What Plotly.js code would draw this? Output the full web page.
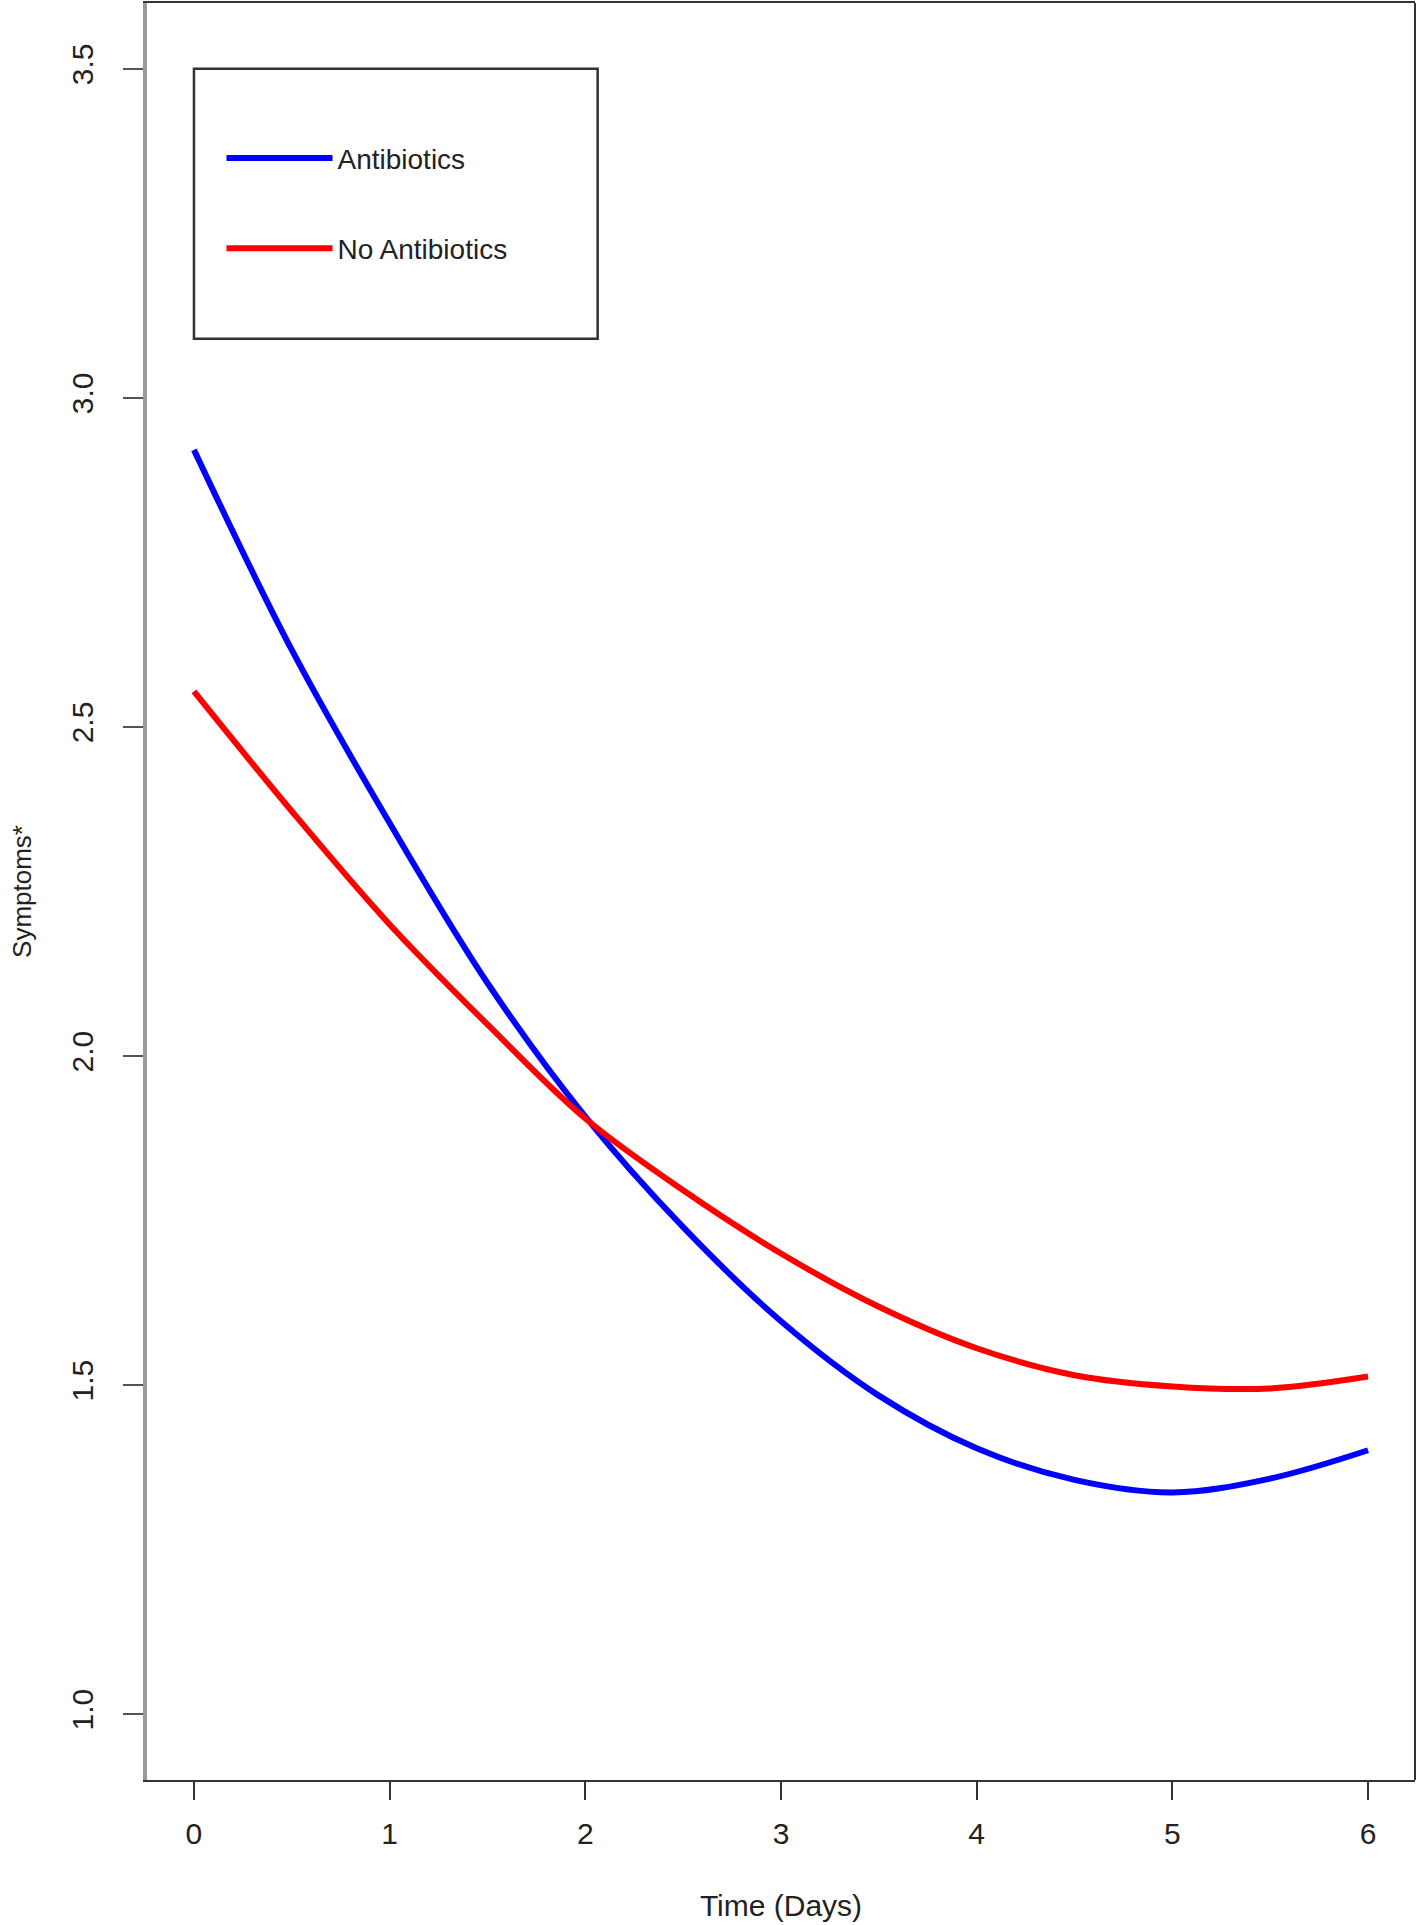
<!DOCTYPE html>
<html>
<head>
<meta charset="utf-8">
<script src="https://cdn.plot.ly/plotly-3.0.1.min.js"></script>
<style>html,body{margin:0;padding:0;background:#fff;}</style>
</head>
<body>
<div id="chart" style="width:1418px;height:1925px;"></div>
<script>
// Data
const days = [0, 0.5, 1, 1.5, 2, 2.5, 3, 3.5, 4, 4.5, 5, 5.5, 6];
const antibiotics = [2.921, 2.617, 2.354, 2.111, 1.908, 1.740, 1.597, 1.484, 1.404, 1.356, 1.337, 1.358, 1.401];
const noAntibiotics = [2.554, 2.372, 2.200, 2.048, 1.905, 1.796, 1.700, 1.619, 1.556, 1.515, 1.498, 1.495, 1.513];
const seriesNames = ["Antibiotics", "No Antibiotics"];
const xTicks = [0, 1, 2, 3, 4, 5, 6];
const yTicks = [1.0, 1.5, 2.0, 2.5, 3.0, 3.5];
const yTickText = ["1.0", "1.5", "2.0", "2.5", "3.0", "3.5"];
const xTitle = "Time (Days)";
const yTitle = "Symptoms*";

const font = "Liberation Sans, Arial, sans-serif";

const traces = [
  {x: days, y: antibiotics, name: seriesNames[0], mode: "lines", type: "scatter",
   line: {color: "#0000FF", width: 6, shape: "spline"}, legendgroup: "a"},
  {x: days, y: noAntibiotics, name: seriesNames[1], mode: "lines", type: "scatter",
   line: {color: "#FF0000", width: 6, shape: "spline"}, legendgroup: "b"}
];

const layout = {
  width: 1418, height: 1925,
  margin: {l: 147, r: 3, t: 3, b: 145},
  paper_bgcolor: "#fff", plot_bgcolor: "#fff",
  font: {family: font, size: 30, color: "#222"},
  showlegend: true,
  legend: {
    x: (221.5 - 147) / 1268, y: 0.9267, xanchor: "left", yanchor: "top",
    bgcolor: "rgba(0,0,0,0)", borderwidth: 0,
    font: {family: font, size: 28, color: "#222"},
    itemwidth: 106, tracegroupgap: 51, traceorder: "grouped"
  },
  xaxis: {
    range: [-0.24, 6.24], tickvals: xTicks, ticktext: xTicks.map(String),
    showgrid: false, zeroline: false,
    showline: true, mirror: true, linecolor: "#333", linewidth: 2,
    ticks: "outside", ticklen: 18, tickwidth: 2, tickcolor: "#333",
    ticklabelstandoff: 8,
    tickfont: {family: font, size: 30, color: "#222"},
    title: {text: xTitle, font: {family: font, size: 30, color: "#222"}, standoff: 46}
  },
  yaxis: {
    range: [0.9, 3.6], tickvals: yTicks, ticktext: yTickText,
    showgrid: false, zeroline: false,
    showline: true, mirror: false, linecolor: "#999", linewidth: 4,
    ticks: "outside", ticklen: 20, tickwidth: 2, tickcolor: "#555",
    tickangle: -90, ticklabelstandoff: 18,
    tickfont: {family: font, size: 30, color: "#222"},
    title: {text: yTitle, font: {family: font, size: 26, color: "#222"}, standoff: 28}
  },
  shapes: [
    {type: "line", xref: "paper", yref: "paper", x0: 1, x1: 1, y0: 0, y1: 1,
     line: {color: "#333", width: 2}},
    {type: "rect", xref: "x", yref: "y", x0: 0, x1: 2.063, y0: 3.09, y1: 3.5,
     line: {color: "#333", width: 2.5}, fillcolor: "rgba(0,0,0,0)", layer: "below"}
  ]
};

Plotly.newPlot("chart", traces, layout, {displayModeBar: false, staticPlot: true});
</script>
</body>
</html>
